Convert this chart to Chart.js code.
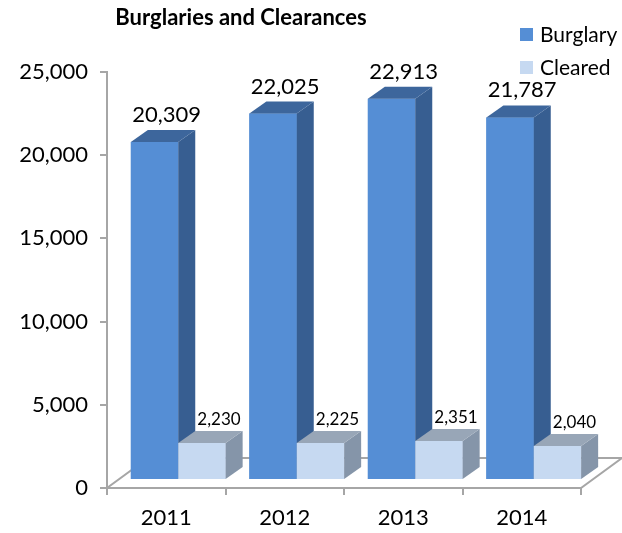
<!DOCTYPE html>
<html>
<head>
<meta charset="utf-8">
<script src="https://cdn.jsdelivr.net/npm/chart.js@4"></script>
<style>
  html, body { margin: 0; padding: 0; background: #fff; }
</style>
</head>
<body>
<canvas id="myChart" width="622" height="533"></canvas>
<script>
const years = ['2011', '2012', '2013', '2014'];
const burglary = [20309, 22025, 22913, 21787];
const cleared = [2230, 2225, 2351, 2040];
const seriesNames = ['Burglary', 'Cleared'];
const yMax = 25000;
const yStep = 5000;

const FONT = 'Lato, "Liberation Sans", sans-serif';
const axisGrey = '#a6a6a6';

// fake 3d: fronts sit a bit back on the floor, bars have a small depth
const shift = { x: 12, y: -8 };
const depth = { x: 17, y: -12 };
const floorDepth = { x: 41, y: -30 };

const faces = [
  { front: '#558ed5', side: '#375e91', top: '#3d669c' },
  { front: '#c6d9f1', side: '#8595a9', top: '#98a6b7' }
];

const fmt = v => v.toLocaleString('en-US');

function poly(ctx, pts, fill) {
  ctx.beginPath();
  ctx.moveTo(pts[0][0], pts[0][1]);
  for (let i = 1; i < pts.length; i++) ctx.lineTo(pts[i][0], pts[i][1]);
  ctx.closePath();
  ctx.fillStyle = fill;
  ctx.fill();
}

const threeD = {
  id: 'threeD',
  beforeDatasetsDraw(chart) {
    const { ctx, chartArea: a } = chart;
    // floor
    ctx.save();
    ctx.beginPath();
    ctx.moveTo(a.left, a.bottom);
    ctx.lineTo(a.right, a.bottom);
    ctx.lineTo(a.right + floorDepth.x, a.bottom + floorDepth.y);
    ctx.lineTo(a.left + floorDepth.x, a.bottom + floorDepth.y);
    ctx.closePath();
    ctx.fillStyle = '#fff';
    ctx.fill();
    ctx.strokeStyle = axisGrey;
    ctx.lineWidth = 2;
    ctx.stroke();
    ctx.restore();
    ctx.save();
    ctx.translate(shift.x, shift.y);
  },
  afterDatasetsDraw(chart) {
    const { ctx } = chart;
    ctx.restore();
    ctx.save();
    for (let i = 0; i < years.length; i++) {
      for (let d = 0; d < 2; d++) {
        const bar = chart.getDatasetMeta(d).data[i];
        const L = bar.x - bar.width / 2 + shift.x;
        const R = bar.x + bar.width / 2 + shift.x;
        const T = bar.y + shift.y;
        const B = bar.base + shift.y;
        const c = faces[d];
        poly(ctx, [[L, T], [R, T], [R, B], [L, B]], c.front);
        poly(ctx, [[R, T], [R + depth.x, T + depth.y], [R + depth.x, B + depth.y], [R, B]], c.side);
        poly(ctx, [[L, T], [L + depth.x, T + depth.y], [R + depth.x, T + depth.y], [R, T]], c.top);
      }
    }
    // value labels
    ctx.fillStyle = '#000';
    ctx.textAlign = 'center';
    ctx.textBaseline = 'alphabetic';
    chart.data.datasets.forEach((ds, d) => {
      const meta = chart.getDatasetMeta(d);
      ctx.font = (d === 0 ? '22px ' : '17px ') + FONT;
      meta.data.forEach((bar, i) => {
        const cx = bar.x + shift.x + (d === 0 ? 12 : 17);
        const y = bar.y + shift.y - (d === 0 ? 20 : 18);
        ctx.fillText(fmt(ds.data[i]), cx, y);
      });
    });
    ctx.restore();
  },
  afterDraw(chart) {
    const { ctx } = chart;
    ctx.save();
    ctx.fillStyle = '#000';
    ctx.textAlign = 'center';
    ctx.textBaseline = 'alphabetic';
    ctx.font = 'bold 22px ' + FONT;
    ctx.fillText('Burglaries and Clearances', 241, 25);
    // legend
    ctx.textAlign = 'left';
    ctx.font = '21px ' + FONT;
    seriesNames.forEach((name, k) => {
      const y = 28 + k * 33;
      ctx.fillStyle = faces[k].front;
      ctx.fillRect(520, y, 13, 13);
      ctx.fillStyle = '#000';
      ctx.fillText(name, 540, y + 14);
    });
    ctx.restore();
  }
};

new Chart(document.getElementById('myChart'), {
  type: 'bar',
  data: {
    labels: years,
    datasets: [
      { label: seriesNames[0], data: burglary, backgroundColor: faces[0].front },
      { label: seriesNames[1], data: cleared, backgroundColor: faces[1].front }
    ]
  },
  options: {
    responsive: false,
    animation: false,
    events: [],
    categoryPercentage: 0.8,
    barPercentage: 1.0,
    layout: { padding: { top: 72, right: 41, left: 0, bottom: 0 } },
    plugins: {
      legend: { display: false },
      title: { display: false },
      tooltip: { enabled: false }
    },
    scales: {
      x: {
        grid: { drawOnChartArea: false, offset: true, tickLength: 7, color: axisGrey, lineWidth: 2 },
        border: { color: axisGrey, width: 2 },
        ticks: { color: '#000', font: { family: FONT, size: 22 }, padding: 10 },
        afterFit(s) { s.height = 45; }
      },
      y: {
        min: 0,
        max: yMax,
        grid: { drawOnChartArea: false, tickLength: 7, color: axisGrey, lineWidth: 2 },
        border: { color: axisGrey, width: 2 },
        ticks: { stepSize: yStep, color: '#000', font: { family: FONT, size: 22 }, padding: 12, callback: v => fmt(v) },
        afterFit(s) { s.width = 107; }
      }
    }
  },
  plugins: [threeD]
});
</script>
</body>
</html>
